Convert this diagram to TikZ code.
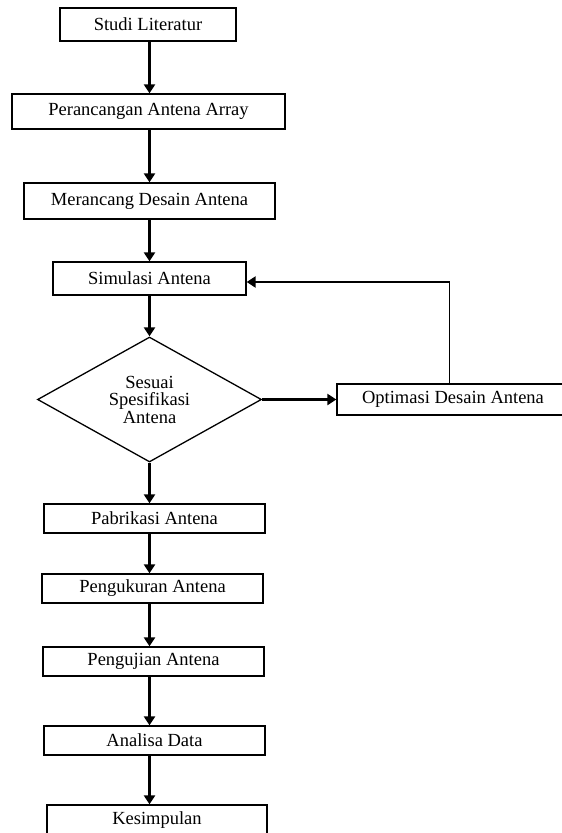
\documentclass[tikz,border=0pt]{standalone}
\usepackage{fontspec}
\setmainfont{Liberation Serif}
\usetikzlibrary{arrows.meta,calc,shapes.geometric}

\begin{document}
\begin{tikzpicture}[x=1pt,y=-1pt,
  kotak/.style={draw,line width=1.3pt,inner sep=0pt,font=\fontsize{18.5}{17.5}\selectfont},
  belah/.style={draw,diamond,aspect=1.8,line width=1.3pt,inner sep=0pt,align=center,font=\fontsize{18.5}{17.5}\selectfont},
  panah/.style={line width=2.5pt,-{Triangle[length=9pt,width=11pt]}},
  garis/.style={line width=1pt}]
  \clip (0,0) rectangle (562,833);
  % kotak proses
  \node[kotak,minimum width=176,minimum height=33] (studi) at (148,24.5) {Studi Literatur};
  \node[kotak,minimum width=273,minimum height=35] (peran) at (148.5,111.5) {Perancangan Antena Array};
  \node[kotak,minimum width=251,minimum height=36] (rancang) at (149.5,201) {Merancang Desain Antena};
  \node[kotak,minimum width=193,minimum height=33] (sim) at (149.5,278.5) {Simulasi Antena};
  \node[belah,minimum width=224,minimum height=125] (dia) at (149.5,399.5) {Sesuai\\Spesifikasi\\Antena};
  \node[kotak,minimum width=232,minimum height=31] (opt) at (453,399.5) {Optimasi Desain Antena};
  \node[kotak,minimum width=221,minimum height=29] (pab) at (154.5,518.5) {Pabrikasi Antena};
  \node[kotak,minimum width=221,minimum height=29] (ukur) at (152.5,588.5) {Pengukuran Antena};
  \node[kotak,minimum width=221,minimum height=29] (uji) at (153.5,661.5) {Pengujian Antena};
  \node[kotak,minimum width=221,minimum height=29] (analisa) at (154.5,740.5) {Analisa Data};
  \node[kotak,minimum width=220,minimum height=30] (simpul) at (157,820) {Kesimpulan};
  % jalur panah utama
  \coordinate (jalur) at (149.5,0);
  \draw[panah] (studi.south -| jalur) -- (peran.north -| jalur);
  \draw[panah] (peran.south -| jalur) -- (rancang.north -| jalur);
  \draw[panah] (rancang.south -| jalur) -- (sim.north -| jalur);
  \draw[panah] (sim.south -| jalur) -- (dia.north);
  \draw[panah] (dia.south) -- (pab.north -| jalur);
  \draw[panah] (pab.south -| jalur) -- (ukur.north -| jalur);
  \draw[panah] (ukur.south -| jalur) -- (uji.north -| jalur);
  \draw[panah] (uji.south -| jalur) -- (analisa.north -| jalur);
  \draw[panah] (analisa.south -| jalur) -- (simpul.north -| jalur);
  % umpan balik optimasi
  \draw[panah] (dia.east) -- (opt.west);
  \coordinate (balik) at ($(opt.north)+(-4,0)$);
  \coordinate (sudut) at ($(balik |- sim.east)+(0,3.5)$);
  \draw[garis] (balik) -- (sudut);
  \draw[panah] ($(sudut)+(0.5,0)$) -- (sudut -| sim.east);
\end{tikzpicture}
\end{document}
